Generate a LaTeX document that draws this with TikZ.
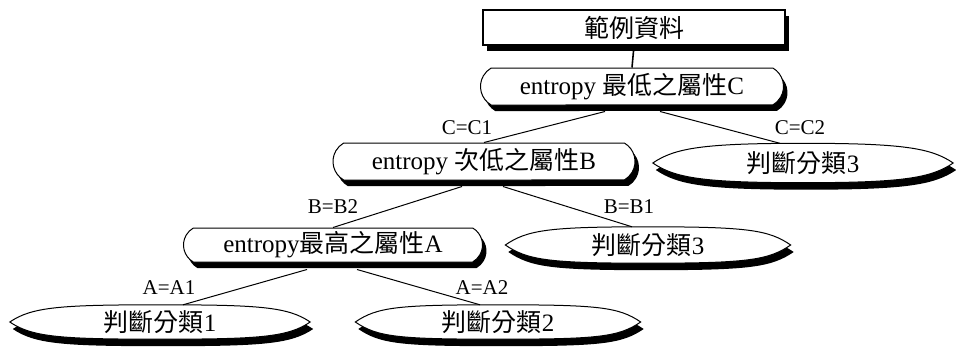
\documentclass[tikz,border=0pt]{standalone}
\usepackage{fontspec}
\setmainfont{Liberation Serif}
\newfontfamily\cjk{Noto Sans CJK TC}
\usetikzlibrary{shapes.misc,shadows,backgrounds}
\tikzset{
  sh/.style={drop shadow={fill=black,opacity=1,shadow xshift=4pt,shadow yshift=-6pt}},
  rootbox/.style={draw,line width=1.3pt,fill=white,minimum width=302pt,minimum height=35pt,inner sep=0pt,sh,font=\fontsize{25}{30}\selectfont\cjk},
  attr/.style={rounded rectangle,rounded rectangle arc length=120,draw,line width=1pt,fill=white,minimum height=37pt,inner sep=0pt,sh,font=\fontsize{25}{30}\selectfont},
  leafbox/.style={minimum height=36pt,inner sep=0pt,font=\fontsize{25}{30}\selectfont},
  lens/.style={draw,line width=1pt,fill=white,drop shadow={fill=black,opacity=1,shadow xshift=3pt,shadow yshift=-7pt}},
  cond/.style={font=\fontsize{21}{25}\selectfont,inner sep=0pt},
  edge/.style={line width=1pt},
}
\newcommand\mylens[1]{\path[lens] (#1.west) .. controls +(22,15) and +(-100,0) .. (#1.north) .. controls +(100,0) and +(-22,15) .. (#1.east) .. controls +(-22,-15) and +(100,0) .. (#1.south) .. controls +(-100,0) and +(22,-15) .. (#1.west) -- cycle;}
\begin{document}
\begin{tikzpicture}[x=1pt,y=1pt]
\useasboundingbox (0,0) rectangle (956,349);
% attribute nodes
\node[rootbox] (root) at (634,321.5) {範例資料};
\node[attr,minimum width=303pt] (C) at (632,262.5) {entropy {\cjk 最低之屬性}C};
\node[attr,minimum width=302pt] (B) at (484,187.5) {entropy {\cjk 次低之屬性}B};
\node[attr,minimum width=299pt,minimum height=34pt] (A) at (333,104) {entropy{\cjk 最高之屬性}A};
% leaves
\node[leafbox,minimum width=300pt,minimum height=39pt] (L3a) at (803,186) {{\cjk 判斷分類}3};
\node[leafbox,minimum width=285pt] (L3b) at (648,104) {{\cjk 判斷分類}3};
\node[leafbox,minimum width=300pt,minimum height=34pt] (L1) at (160,27) {{\cjk 判斷分類}1};
\node[leafbox,minimum width=285pt,minimum height=34pt] (L2) at (498,27) {{\cjk 判斷分類}2};
\begin{scope}[on background layer]
  \fill[white] (0,0) rectangle (956,349);
  \mylens{L3a}
  \mylens{L3b}
  \mylens{L1}
  \mylens{L2}
\end{scope}
% condition labels
\node[cond] (c1) at (467,221) {C=C1};
\node[cond] (c2) at (800,221) {C=C2};
\node[cond] (b2) at (333,142) {B=B2};
\node[cond] (b1) at (629,142) {B=B1};
\node[cond] (a1) at (169,61) {A=A1};
\node[cond] (a2) at (482,61) {A=A2};
% connectors
\draw[line width=1.6pt] (root.south) -- (C.north);
\draw[edge] ([shift={(-27,-6)}]C.south) -- (B.north);
\draw[edge] ([shift={(28,-6)}]C.south) -- ([xshift=-23]L3a.north);
\draw[edge] ([shift={(-22,-6)}]B.south) -- (A.north);
\draw[edge] ([shift={(19,-6)}]B.south) -- ([xshift=-16]L3b.north);
\draw[edge] ([shift={(-26,-7)}]A.south) -- ([xshift=23]L1.north);
\draw[edge] ([shift={(24,-7)}]A.south) -- ([xshift=-18]L2.north);
\end{tikzpicture}
\end{document}
